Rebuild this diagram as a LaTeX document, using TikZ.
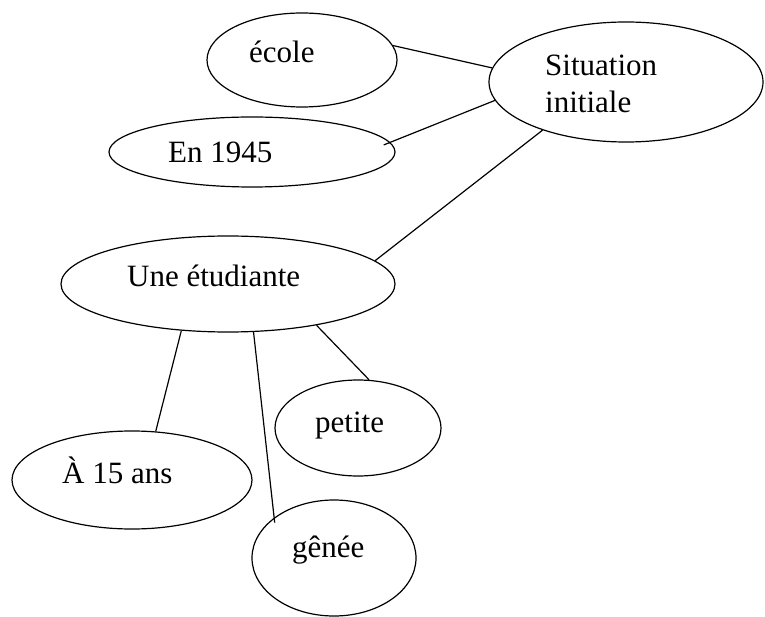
\documentclass[tikz,border=0pt]{standalone}
\usepackage{fontspec}
\setmainfont{Liberation Serif}
\usetikzlibrary{shapes.geometric}
\begin{document}
\begin{tikzpicture}[x=1pt,y=-1pt,
  bub/.style={ellipse, draw, line width=1.2pt, inner sep=0pt},
  lbl/.style={anchor=base west, inner sep=0pt, font=\fontsize{31}{37}\selectfont},
  link/.style={line width=1.2pt}]
\useasboundingbox (0,0) rectangle (765,617);
% ellipses
\node[bub, minimum width=190pt, minimum height=94pt] (ecole) at (302,60) {};
\node[bub, minimum width=274pt, minimum height=120pt] (sit) at (626,82) {};
\node[bub, minimum width=286pt, minimum height=70pt] (en) at (252,152) {};
\node[bub, minimum width=334pt, minimum height=96pt] (une) at (228,284) {};
\node[bub, minimum width=166pt, minimum height=96pt] (pet) at (358,428) {};
\node[bub, minimum width=240pt, minimum height=98pt] (a15) at (132,480) {};
\node[bub, minimum width=164pt, minimum height=116pt] (gen) at (334,558) {};
% texts
\node[lbl] (t-ecole) at (249,63) {école};
\node[lbl] (t-sit1) at (545,76) {Situation};
\node[lbl] (t-sit2) at (545,113) {initiale};
\node[lbl] (t-en) at (168,163) {En 1945};
\node[lbl] (t-une) at (127,287) {Une étudiante};
\node[lbl] (t-pet) at (315,432) {petite};
\node[lbl] (t-a15) at (62,483) {À 15 ans};
\node[lbl] (t-gen) at (292,557) {gênée};
% connectors
\draw[link] (ecole.9.2) -- (sit.174.5);
\draw[link, shorten >=-7pt] (sit.-172.7) -- (en.4);
\draw[link] (sit.-150.7) -- (une.9.5);
\draw[link] (une.-135) -- (a15.64);
\draw[link, shorten >=-5pt] (une.-62) -- (gen.146.3);
\draw[link] (une.-25.8) -- (pet.77);
\end{tikzpicture}
\end{document}
